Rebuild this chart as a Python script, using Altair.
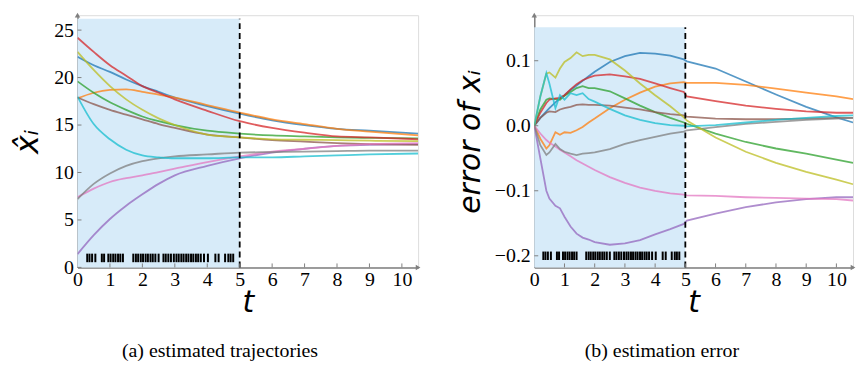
import altair as alt
import pandas as pd

# ---------------- data ----------------
SERIES = ["1", "2", "3", "4", "5", "6", "7", "8", "9", "10"]
COLORS = ["#1f77b4", "#ff7f0e", "#2ca02c", "#d62728", "#9467bd",
          "#8c564b", "#e377c2", "#7f7f7f", "#bcbd22", "#17becf"]

# (a) estimated trajectories
T_TRAJ = [0, 0.5, 1, 1.5, 2, 2.5, 3, 4, 5, 6, 7, 8, 9, 10.5]
traj_blue   = [22.2, 21.3, 20.6, 19.8, 19.1, 18.5, 17.9, 17.0, 16.2, 15.5, 15.0, 14.6, 14.4, 14.1]
traj_orange = [17.8, 18.4, 18.7, 18.75, 18.5, 18.2, 17.9, 17.1, 16.3, 15.6, 15.1, 14.6, 14.3, 13.9]
traj_green  = [19.6, 18.4, 17.4, 16.6, 15.9, 15.4, 15.0, 14.4, 14.1, 13.9, 13.8, 13.7, 13.65, 13.6]
traj_red    = [24.2, 22.7, 21.3, 20.2, 19.1, 18.4, 17.7, 16.5, 15.4, 14.7, 14.2, 13.8, 13.7, 13.5]
traj_purple = [1.4, 3.4, 5.1, 6.5, 7.7, 8.8, 9.7, 10.7, 11.5, 12.1, 12.5, 12.8, 12.9, 13.0]
traj_brown  = [17.9, 17.2, 16.6, 16.1, 15.6, 15.1, 14.7, 14.0, 13.7, 13.4, 13.25, 13.1, 13.0, 12.9]
traj_pink   = [7.4, 8.3, 9.0, 9.4, 9.7, 10.05, 10.4, 11.1, 11.7, 12.2, 12.5, 12.8, 13.0, 13.1]
traj_gray   = [7.2, 8.8, 9.9, 10.7, 11.2, 11.5, 11.7, 11.9, 12.1, 12.15, 12.2, 12.25, 12.3, 12.3]
traj_olive  = [22.7, 20.8, 19.1, 17.7, 16.6, 15.7, 15.0, 14.0, 13.7, 13.5, 13.45, 13.4, 13.35, 13.3]
traj_cyan   = [18.0, 15.1, 13.5, 12.4, 11.8, 11.6, 11.5, 11.5, 11.6, 11.6, 11.7, 11.8, 11.9, 12.0]

# (b) estimation error
T_ERR = [0, 0.2, 0.4, 0.5, 0.7, 0.85, 1.0, 1.2, 1.4, 1.6, 1.8, 2, 2.5, 3, 3.5, 4, 4.5,
         4.95, 5.05, 6, 7, 8, 9, 10, 10.55]
err_blue   = [0, 0.012, 0.022, 0.027, 0.036, 0.042, 0.047, 0.055, 0.062, 0.069, 0.076, 0.083, 0.098,
              0.107, 0.112, 0.111, 0.108, 0.102, 0.099, 0.088, 0.068, 0.048, 0.029, 0.013, 0.005]
err_orange = [0, -0.02, -0.035, -0.03, -0.01, -0.014, -0.01, -0.011, -0.007, -0.002, 0.005, 0.011, 0.027,
              0.04, 0.051, 0.06, 0.065, 0.067, 0.066, 0.066, 0.063, 0.057, 0.051, 0.045, 0.041]
err_green  = [0, 0.025, 0.04, 0.042, 0.041, 0.04, 0.046, 0.052, 0.058, 0.061, 0.058, 0.058, 0.053,
              0.042, 0.031, 0.021, 0.012, 0.005, 0.003, -0.012, -0.025, -0.035, -0.043, -0.052, -0.057]
err_red    = [0, 0.02, 0.035, 0.04, 0.042, 0.043, 0.047, 0.056, 0.064, 0.07, 0.074, 0.077, 0.079,
              0.076, 0.072, 0.065, 0.058, 0.052, 0.045, 0.038, 0.031, 0.026, 0.022, 0.02, 0.02]
err_purple = [0, -0.05, -0.1, -0.112, -0.123, -0.127, -0.14, -0.155, -0.166, -0.172, -0.175, -0.179, -0.183,
              -0.181, -0.176, -0.167, -0.159, -0.151, -0.146, -0.135, -0.125, -0.118, -0.113, -0.11, -0.11]
err_brown  = [0, 0.012, 0.02, 0.022, 0.021, 0.025, 0.027, 0.029, 0.032, 0.033, 0.032, 0.032, 0.031,
              0.028, 0.025, 0.021, 0.018, 0.016, 0.014, 0.011, 0.01, 0.01, 0.011, 0.012, 0.012]
err_pink   = [0, -0.012, -0.022, -0.026, -0.032, -0.037, -0.041, -0.047, -0.053, -0.058, -0.063, -0.068, -0.079,
              -0.088, -0.095, -0.1, -0.104, -0.106, -0.107, -0.108, -0.11, -0.111, -0.112, -0.113, -0.115]
err_gray   = [0, -0.03, -0.045, -0.041, -0.028, -0.036, -0.04, -0.043, -0.045, -0.043, -0.042, -0.041, -0.036,
              -0.028, -0.022, -0.017, -0.012, -0.009, -0.007, -0.002, 0.003, 0.006, 0.009, 0.011, 0.012]
err_olive  = [0, 0.045, 0.08, 0.082, 0.074, 0.088, 0.098, 0.104, 0.113, 0.107, 0.109, 0.109, 0.102,
              0.085, 0.065, 0.047, 0.03, 0.013, 0.008, -0.018, -0.04, -0.057, -0.071, -0.083, -0.09]
err_cyan   = [0, 0.045, 0.081, 0.065, 0.027, 0.047, 0.04, 0.05, 0.047, 0.05, 0.041, 0.037, 0.026,
              0.016, 0.009, 0.004, 0.001, 0.0, -0.001, 0.001, 0.005, 0.009, 0.012, 0.015, 0.016]

# observation event times (marks in the shaded region)
EVENTS = [0.30, 0.37, 0.45, 0.55, 0.75, 0.82, 0.95, 1.02, 1.10, 1.17, 1.25, 1.32, 1.40,
          1.72, 1.80, 1.87, 1.95, 2.02, 2.10, 2.17, 2.25, 2.32, 2.40, 2.50, 2.65, 2.72,
          2.80, 2.88, 2.97, 3.05, 3.12, 3.20, 3.27, 3.35, 3.42, 3.50, 3.57, 3.65, 3.72,
          3.80, 3.90, 4.02, 4.25, 4.35, 4.55, 4.65, 4.72, 4.80]

OBS_END = 5
A_XMAX, A_YTOP, A_SHADE = 10.5, 26.57, 26.2
A_XTICKS = [0, 1, 2, 3, 4, 5, 6, 7, 8, 9, 10]
A_YTICKS = [0, 5, 10, 15, 20, 25]
B_XMAX, B_YMIN, B_YTOP, B_SHADE = 10.55, -0.2179, 0.17, 0.1516
B_XTICKS = [0, 1, 2, 3, 4, 5, 6, 7, 8, 9, 10]
B_YTICKS = [-0.2, -0.1, 0.0, 0.1]

traj = [traj_blue, traj_orange, traj_green, traj_red, traj_purple,
        traj_brown, traj_pink, traj_gray, traj_olive, traj_cyan]
errs = [err_blue, err_orange, err_green, err_red, err_purple,
        err_brown, err_pink, err_gray, err_olive, err_cyan]


def long(T, arrays):
    rows = []
    for name, vals in zip(SERIES, arrays):
        for t, v in zip(T, vals):
            rows.append({"t": t, "v": v, "s": name})
    return pd.DataFrame(rows)


df_a = long(T_TRAJ, traj)
df_b = long(T_ERR, errs)

LABEL_FONT = "Liberation Serif"
TITLE_FONT = "DejaVu Sans"
AXIS_GRAY = "#808080"


def panel(df, xmax, ymin, ytop, shade_top, event_y, ev_half, xticks, yticks,
          yfmt, ytitle, ytitle_size, caption, cap_dx, width, height, interp, ytitlepad):
    xs = alt.Scale(domain=[0, xmax], nice=False, zero=False)
    ys = alt.Scale(domain=[ymin, ytop], nice=False, zero=False)
    xax = alt.Axis(values=xticks, format="d", title="t", titleFontSize=30, titlePadding=-2)
    yax = alt.Axis(values=yticks, format=yfmt, title=ytitle, titleFontSize=ytitle_size,
                   titlePadding=ytitlepad, labelPadding=4)

    def X(field):
        return alt.X(field, scale=xs, axis=xax)

    def Y(field):
        return alt.Y(field, scale=ys, axis=yax)

    shade = alt.Chart(pd.DataFrame({"x0": [0], "x1": [OBS_END], "y0": [ymin], "y1": [shade_top]})).mark_rect(
        color="#d7ebf9").encode(x=X("x0:Q"), x2="x1:Q", y=Y("y0:Q"), y2="y1:Q")

    dashed = alt.Chart(pd.DataFrame({"x": [OBS_END], "y0": [ymin], "y1": [shade_top]})).mark_rule(
        color="black", strokeWidth=1.8, strokeDash=[6, 4]).encode(x=X("x:Q"), y=Y("y0:Q"), y2="y1:Q")

    lines = alt.Chart(df).mark_line(strokeWidth=1.8, opacity=0.75, interpolate=interp, clip=True).encode(
        x=X("t:Q"), y=Y("v:Q"),
        color=alt.Color("s:N", scale=alt.Scale(domain=SERIES, range=COLORS), legend=None),
        order="t:Q")

    ev = pd.DataFrame({"t": EVENTS, "lo": [event_y - ev_half] * len(EVENTS),
                       "hi": [event_y + ev_half] * len(EVENTS)})
    events = alt.Chart(ev).mark_rule(color="black", strokeWidth=2).encode(
        x=X("t:Q"), y=Y("lo:Q"), y2="hi:Q")

    # inward tick marks
    dy = (ytop - ymin) * 4.0 / height
    dx = xmax * 4.0 / width
    xt = pd.DataFrame({"x": xticks[1:], "lo": [ymin] * (len(xticks) - 1),
                       "hi": [ymin + dy] * (len(xticks) - 1)})
    yt = pd.DataFrame({"y": yticks, "lo": [0] * len(yticks), "hi": [dx] * len(yticks)})
    xtick = alt.Chart(xt).mark_rule(color=AXIS_GRAY, strokeWidth=1).encode(
        x=X("x:Q"), y=Y("lo:Q"), y2="hi:Q")
    ytick = alt.Chart(yt).mark_rule(color=AXIS_GRAY, strokeWidth=1).encode(
        y=Y("y:Q"), x=X("lo:Q"), x2="hi:Q")

    # axis arrow heads
    arr = pd.DataFrame({"x": [xmax, 0], "y": [ymin, ytop], "sh": ["triangle-right", "triangle-up"]})
    arrows = alt.Chart(arr).mark_point(filled=True, color=AXIS_GRAY, size=30, opacity=1).encode(
        x=X("x:Q"), y=Y("y:Q"), shape=alt.Shape("sh:N", scale=None))

    return alt.layer(shade, lines, events, dashed, xtick, ytick, arrows).properties(
        width=width, height=height,
        title=alt.TitleParams(caption, orient="bottom", font=LABEL_FONT, fontSize=20,
                              fontWeight="normal", color="black", dx=cap_dx, offset=24))


left = panel(df_a, A_XMAX, 0, A_YTOP, A_SHADE, 1.0, 0.45, A_XTICKS, A_YTICKS, "d",
             "x\u0302\u1d62", 32, "(a) estimated trajectories", -28, 343, 254, "monotone", 9)
right = panel(df_b, B_XMAX, B_YMIN, B_YTOP, B_SHADE, -0.2, 0.0065, B_XTICKS, B_YTICKS, ".1f",
              "error of x\u1d62", 30, "(b) estimation error", -32, 321, 254, "linear", 9)

chart = alt.hconcat(left, right, spacing=34).properties(
    padding={"left": 3, "top": 3, "right": 0, "bottom": 0}
).configure_view(stroke=None).configure(background="white").configure_axis(
    ticks=False, grid=False,
    labelFont=LABEL_FONT, labelFontSize=20, labelColor="black", labelPadding=2,
    labelFlush=False, labelOverlap=False,
    domainColor=AXIS_GRAY, domainWidth=1.5,
    titleFont=TITLE_FONT, titleFontStyle="italic", titleFontWeight="normal",
    titleColor="black"
)

chart.save("out.html", embed_options={"renderer": "svg", "actions": False})
